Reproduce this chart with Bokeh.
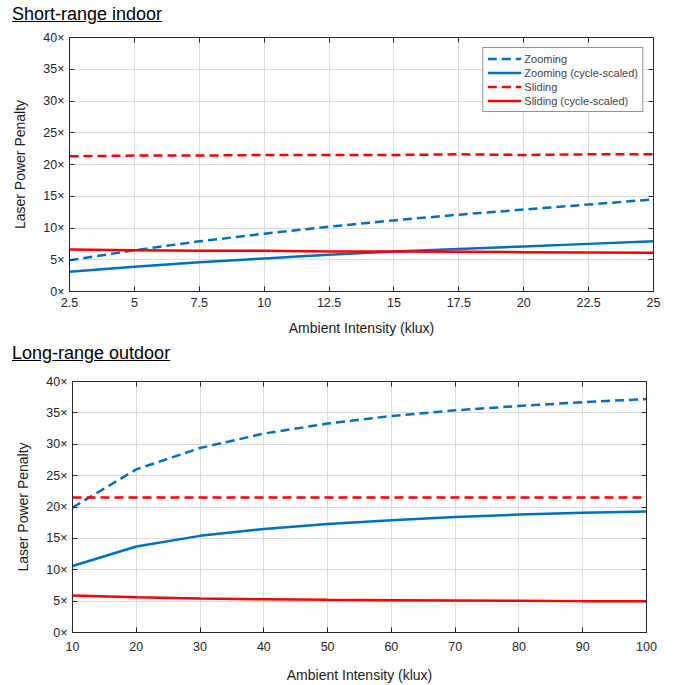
from bokeh.plotting import figure
from bokeh.models import (Range1d, FixedTicker, LinearAxis, PrintfTickFormatter, Div)
from bokeh.layouts import column
from bokeh.embed import file_html
from bokeh.resources import INLINE

# ---- data: short-range indoor ----
x_indoor = [2.5, 5, 7.5, 10, 12.5, 15, 17.5, 20, 22.5, 25]
zoom_indoor = [4.9, 6.5, 7.9, 9.1, 10.2, 11.2, 12.1, 12.9, 13.7, 14.5]
zoom_cs_indoor = [3.1, 3.9, 4.6, 5.2, 5.8, 6.3, 6.7, 7.1, 7.5, 7.9]
slide_indoor = [21.3, 21.4, 21.4, 21.5, 21.5, 21.5, 21.6, 21.5, 21.6, 21.6]
slide_cs_indoor = [6.6, 6.5, 6.4, 6.4, 6.3, 6.3, 6.25, 6.2, 6.15, 6.1]
x_ticks_indoor = [2.5, 5, 7.5, 10, 12.5, 15, 17.5, 20, 22.5, 25]
x_labels_indoor = ["2.5", "5", "7.5", "10", "12.5", "15", "17.5", "20", "22.5", "25"]

# ---- data: long-range outdoor ----
x_outdoor = [10, 20, 30, 40, 50, 60, 70, 80, 90, 100]
zoom_outdoor = [19.9, 26.0, 29.4, 31.7, 33.3, 34.5, 35.4, 36.1, 36.7, 37.2]
zoom_cs_outdoor = [10.6, 13.7, 15.4, 16.5, 17.3, 17.9, 18.4, 18.8, 19.1, 19.3]
slide_outdoor = [21.5, 21.5, 21.5, 21.5, 21.5, 21.5, 21.5, 21.5, 21.5, 21.5]
slide_cs_outdoor = [5.9, 5.6, 5.4, 5.3, 5.2, 5.15, 5.1, 5.05, 5.0, 5.0]
x_ticks_outdoor = [10, 20, 30, 40, 50, 60, 70, 80, 90, 100]
x_labels_outdoor = ["10", "20", "30", "40", "50", "60", "70", "80", "90", "100"]

y_ticks = [0, 5, 10, 15, 20, 25, 30, 35, 40]

BLUE = "#0072BD"
RED = "#FF0000"
AX = "#262626"
FONT = "Liberation Sans"


def style_axis(ax):
    ax.axis_line_color = AX
    ax.major_tick_line_color = AX
    ax.major_tick_in = 5
    ax.major_tick_out = 0
    ax.minor_tick_line_color = None
    ax.major_label_text_font = FONT
    ax.major_label_text_font_size = "12.5px"
    ax.major_label_text_color = AX
    ax.axis_label_text_font = FONT
    ax.axis_label_text_font_size = "14px"
    ax.axis_label_text_font_style = "normal"
    ax.axis_label_text_color = "#1a1a1a"


def make_fig(height, left, right, top, bottom, xr, xticks, xlabels, lab_so, axl_so):
    p = figure(width=686, height=height, output_backend="svg", toolbar_location=None,
               x_range=Range1d(*xr), y_range=Range1d(0, 40),
               x_axis_location=None, y_axis_location=None,
               min_border_left=left, min_border_right=right,
               min_border_top=top, min_border_bottom=bottom)
    p.outline_line_color = AX
    p.outline_line_width = 1
    p.background_fill_color = "white"
    overrides = {t: l for t, l in zip(xticks, xlabels)}

    xb = LinearAxis(ticker=FixedTicker(ticks=xticks), axis_label="Ambient Intensity (klux)")
    style_axis(xb)
    xb.major_label_overrides = overrides
    xb.major_label_standoff = lab_so
    xb.axis_label_standoff = axl_so
    p.add_layout(xb, "below")

    yl = LinearAxis(ticker=FixedTicker(ticks=y_ticks), formatter=PrintfTickFormatter(format="%d×"),
                    axis_label="Laser Power Penalty")
    style_axis(yl)
    yl.major_label_standoff = 5
    yl.axis_label_standoff = 12
    p.add_layout(yl, "left")

    xt = LinearAxis(ticker=FixedTicker(ticks=xticks), formatter=PrintfTickFormatter(format=""))
    style_axis(xt)
    xt.major_label_text_font_size = "1px"
    xt.major_label_standoff = 0
    p.add_layout(xt, "above")

    yr = LinearAxis(ticker=FixedTicker(ticks=y_ticks), formatter=PrintfTickFormatter(format=""))
    style_axis(yr)
    yr.major_label_text_font_size = "1px"
    yr.major_label_standoff = 0
    p.add_layout(yr, "right")

    p.xgrid.ticker = FixedTicker(ticks=xticks)
    p.ygrid.ticker = FixedTicker(ticks=y_ticks)
    p.grid.grid_line_color = "#dcdcdc"
    p.grid.grid_line_width = 1
    return p


p1 = make_fig(308, 69, 33, 7, 47, (2.5, 25), x_ticks_indoor, x_labels_indoor, 6, 10)
p1.line(x_indoor, zoom_indoor, color=BLUE, line_width=2.5, line_dash="9 5", legend_label="Zooming")
p1.line(x_indoor, zoom_cs_indoor, color=BLUE, line_width=2.5, legend_label="Zooming (cycle-scaled)")
p1.line(x_indoor, slide_indoor, color=RED, line_width=2.5, line_dash="9 5", legend_label="Sliding")
p1.line(x_indoor, slide_cs_indoor, color=RED, line_width=2.5, legend_label="Sliding (cycle-scaled)")
lg = p1.legend[0]
lg.location = "top_right"
lg.margin = 10
lg.padding = 4
lg.spacing = 1
lg.label_text_font = FONT
lg.label_text_font_size = "11px"
lg.label_height = 13
lg.glyph_height = 13
lg.glyph_width = 34
lg.label_standoff = 3
lg.border_line_color = AX
lg.border_line_width = 1
lg.background_fill_alpha = 1

p2 = make_fig(315, 72, 40, 11, 53, (10, 100), x_ticks_outdoor, x_labels_outdoor, 9, 13)
p2.line(x_outdoor, zoom_outdoor, color=BLUE, line_width=2.5, line_dash="9 5")
p2.line(x_outdoor, zoom_cs_outdoor, color=BLUE, line_width=2.5)
p2.line(x_outdoor, slide_outdoor, color=RED, line_width=2.5, line_dash="9 5")
p2.line(x_outdoor, slide_cs_outdoor, color=RED, line_width=2.5)

title_style = {"font-family": FONT, "font-size": "18px", "color": "black", "padding-left": "12px"}
d1 = Div(text="<u>Short-range indoor</u>", width=686, height=30, margin=(0, 0, 0, 0),
         styles=dict(title_style, **{"padding-top": "2px"}))
d2 = Div(text="<u>Long-range outdoor</u>", width=686, height=32, margin=(0, 0, 0, 0),
         styles=dict(title_style, **{"padding-top": "3px"}))

top = column(d1, p1, spacing=0)
bottom = column(d2, p2, spacing=0)
layout = column(top, bottom, spacing=0)
open("out.html", "w").write(file_html(layout, INLINE))
